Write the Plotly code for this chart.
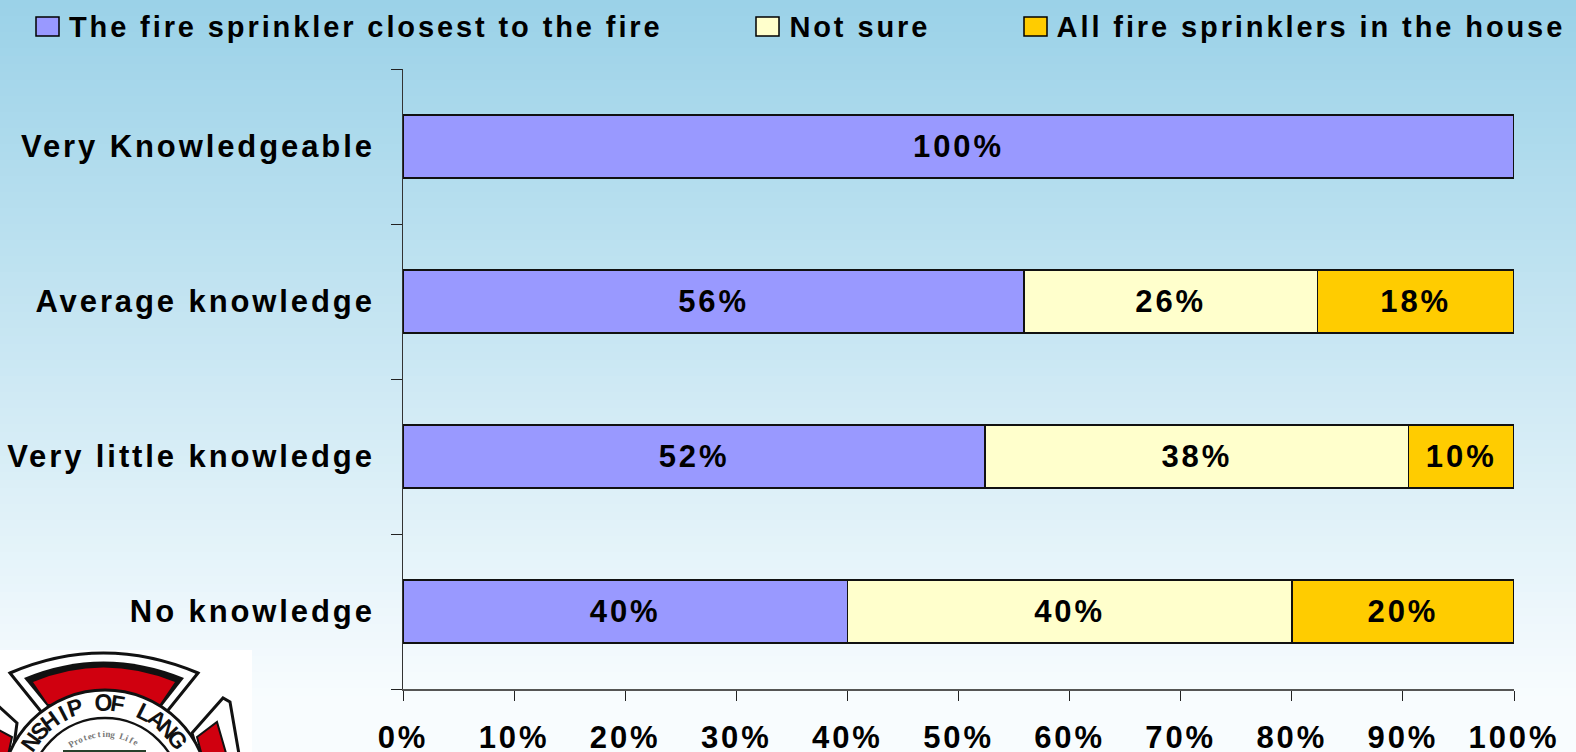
import math
import plotly.graph_objects as go

categories = ["Very Knowledgeable", "Average knowledge", "Very little knowledge", "No knowledge"]
closest = [100, 55.9, 52.4, 40]
not_sure = [None, 26.4, 38.1, 40]
all_sprinklers = [None, 17.7, 9.5, 20]
series_names = ["The fire sprinkler closest to the fire", "Not sure", "All fire sprinklers in the house"]
series_colors = ["#9999FF", "#FFFFCC", "#FFCC00"]
x_ticks = list(range(0, 101, 10))

W, H = 1576, 752
L, R, T, B = 403, 1514, 69, 689
FONT = "Liberation Sans"
FS = 31
LS = 2.9


def px(x):
    return (x - L) / (R - L)


def py(y):
    return (B - y) / (B - T)


def shape_path(points, fill, line="rgba(0,0,0,0)", width=0):
    d = ""
    for p in points:
        if len(p) == 2:
            d += f"{'M' if not d else 'L'}{px(p[0]):.5f},{py(p[1]):.5f} "
        else:
            d += f"Q{px(p[0]):.5f},{py(p[1]):.5f} {px(p[2]):.5f},{py(p[3]):.5f} "
    return dict(type="path", xref="paper", yref="paper", path=d + "Z", fillcolor=fill,
                line=dict(color=line, width=width), layer="below")


def circle(cx, cy, r, fill, line="black", width=2):
    return dict(type="circle", xref="paper", yref="paper", x0=px(cx - r), x1=px(cx + r),
                y0=py(cy + r), y1=py(cy - r), fillcolor=fill, line=dict(color=line, width=width), layer="below")


shapes = []
top_c, bot_c = (155, 210, 232), (248, 252, 254)
STEPS = 94
for i in range(STEPS):
    t = min(1, i / (STEPS - 1) / 0.93)
    c = [round(a + (b - a) * t) for a, b in zip(top_c, bot_c)]
    shapes.append(dict(type="rect", xref="paper", yref="paper", x0=px(0), x1=px(W),
                       y0=py(H * (i + 1) / STEPS + 1), y1=py(H * i / STEPS), fillcolor=f"rgb({c[0]},{c[1]},{c[2]})",
                       line=dict(width=0), layer="below"))

# logo
CX, CY = 105, 794
shapes.append(dict(type="rect", xref="paper", yref="paper", x0=px(0), x1=px(252), y0=py(H + 2), y1=py(650),
                   fillcolor="white", line=dict(width=0), layer="below"))
shapes.append(shape_path([(10, 673), (103, 633, 198, 673), (165, 714), (43, 714)], "white", "#111111", 3))
shapes.append(shape_path([(24, 678), (103, 645, 184, 678), (162, 706), (47, 706)], "#111111"))
shapes.append(shape_path([(33, 682), (103, 653, 175, 682), (160, 704), (48, 704)], "#D0000F"))
shapes.append(shape_path([(192, 733), (223, 698), (230, 702), (240, 760), (200, 760)], "white", "#111111", 3))
shapes.append(shape_path([(197, 737), (217, 722), (228, 760), (203, 760)], "#D0000F", "#111111", 2))
shapes.append(shape_path([(-5, 703), (17, 723), (12, 760), (-5, 760)], "white", "#111111", 3))
shapes.append(shape_path([(-5, 728), (12, 737), (7, 760), (-5, 760)], "#D0000F", "#111111", 2))
shapes.append(circle(CX, CY, 104, "white", "#111111", 3))
shapes.append(circle(CX, CY, 76, "white", "#111111", 2.5))
shapes.append(dict(type="rect", xref="paper", yref="paper", x0=px(63), x1=px(146), y0=py(H + 2), y1=py(750),
                   fillcolor="#26402A", line=dict(width=0), layer="below"))

annotations = []
legend_swatches = [36, 756, 1024]
for name, color, sx in zip(series_names, series_colors, legend_swatches):
    shapes.append(dict(type="rect", xref="paper", yref="paper", x0=px(sx), x1=px(sx + 23), y0=py(36), y1=py(17),
                       fillcolor=color, line=dict(color="black", width=1.5)))
    annotations.append(dict(text=f"<b>{name}</b>", xref="paper", yref="paper",
                            x=px(sx + 31 + len(name) * LS / 2), y=py(27),
                            xanchor="left", yanchor="middle", showarrow=False,
                            font=dict(family=FONT, size=29, color="black")))

for i, ch in enumerate("NSHIP OF LANG"):
    if ch == " ":
        continue
    ang = -54 + 9 * i
    a = math.radians(ang)
    annotations.append(dict(text=f"<b>{ch}</b>", xref="paper", yref="paper",
                            x=px(CX + 91 * math.sin(a)), y=py(CY - 91 * math.cos(a)),
                            xanchor="center", yanchor="middle", textangle=ang, showarrow=False,
                            font=dict(family=FONT, size=23, color="#111111")))
motto = "Protecting Life"
for i, ch in enumerate(motto):
    if ch == " ":
        continue
    ang = (i - (len(motto) - 1) / 2) * 4.6
    a = math.radians(ang)
    annotations.append(dict(text=f"<b>{ch}</b>", xref="paper", yref="paper",
                            x=px(CX + 60 * math.sin(a)), y=py(CY - 60 * math.cos(a)),
                            xanchor="center", yanchor="middle", textangle=ang, showarrow=False,
                            font=dict(family="Liberation Serif", size=9, color="#777777")))

fig = go.Figure()
for name, vals, color in zip(series_names, [closest, not_sure, all_sprinklers], series_colors):
    fig.add_trace(go.Bar(
        name=name, y=categories, x=vals, orientation="h", width=0.403,
        marker=dict(color=color, line=dict(color="#111111", width=1.6)),
        texttemplate="<b>%{x:.0f}%</b>", textposition="inside", insidetextanchor="middle", textangle=0,
        insidetextfont=dict(family=FONT, size=FS, color="black"), showlegend=False,
    ))

fig.update_layout(
    barmode="stack", width=W, height=H, autosize=False,
    margin=dict(l=L, r=W - R, t=T, b=H - B, pad=0),
    paper_bgcolor="white", plot_bgcolor="rgba(0,0,0,0)",
    font=dict(family=FONT, color="black"),
    shapes=shapes, annotations=annotations, uniformtext=dict(mode=False),
    xaxis=dict(range=[0, 100], tickvals=x_ticks, ticktext=[f"<b>{v}%</b>" for v in x_ticks], automargin=False,
               ticks="outside", ticklen=10, tickcolor="#222222", showline=True, linecolor="#555555", linewidth=1.5,
               showgrid=False, zeroline=False, tickfont=dict(family=FONT, size=FS, color="black"),
               ticklabelstandoff=10, tickangle=0),
    yaxis=dict(autorange="reversed", type="category", ticks="outside", ticklen=11, tickson="boundaries",
               automargin=False,
               tickcolor="#222222", showline=True, linecolor="#333333", linewidth=1, showgrid=False, zeroline=False,
               tickvals=categories, ticktext=[f"<b>{c}</b>" for c in categories],
               tickfont=dict(family=FONT, size=FS, color="black"), ticklabelstandoff=21),
)

post = """
document.documentElement.style.overflow='hidden';
document.body.style.margin='0';
var s=document.createElement('style');
s.textContent='.main-svg text{letter-spacing:%spx}';
document.head.appendChild(s);
var gd=document.querySelector('.plotly-graph-div');
Plotly.redraw(gd);
""" % LS
fig.write_html("out.html", post_script=post, config=dict(displayModeBar=False))
